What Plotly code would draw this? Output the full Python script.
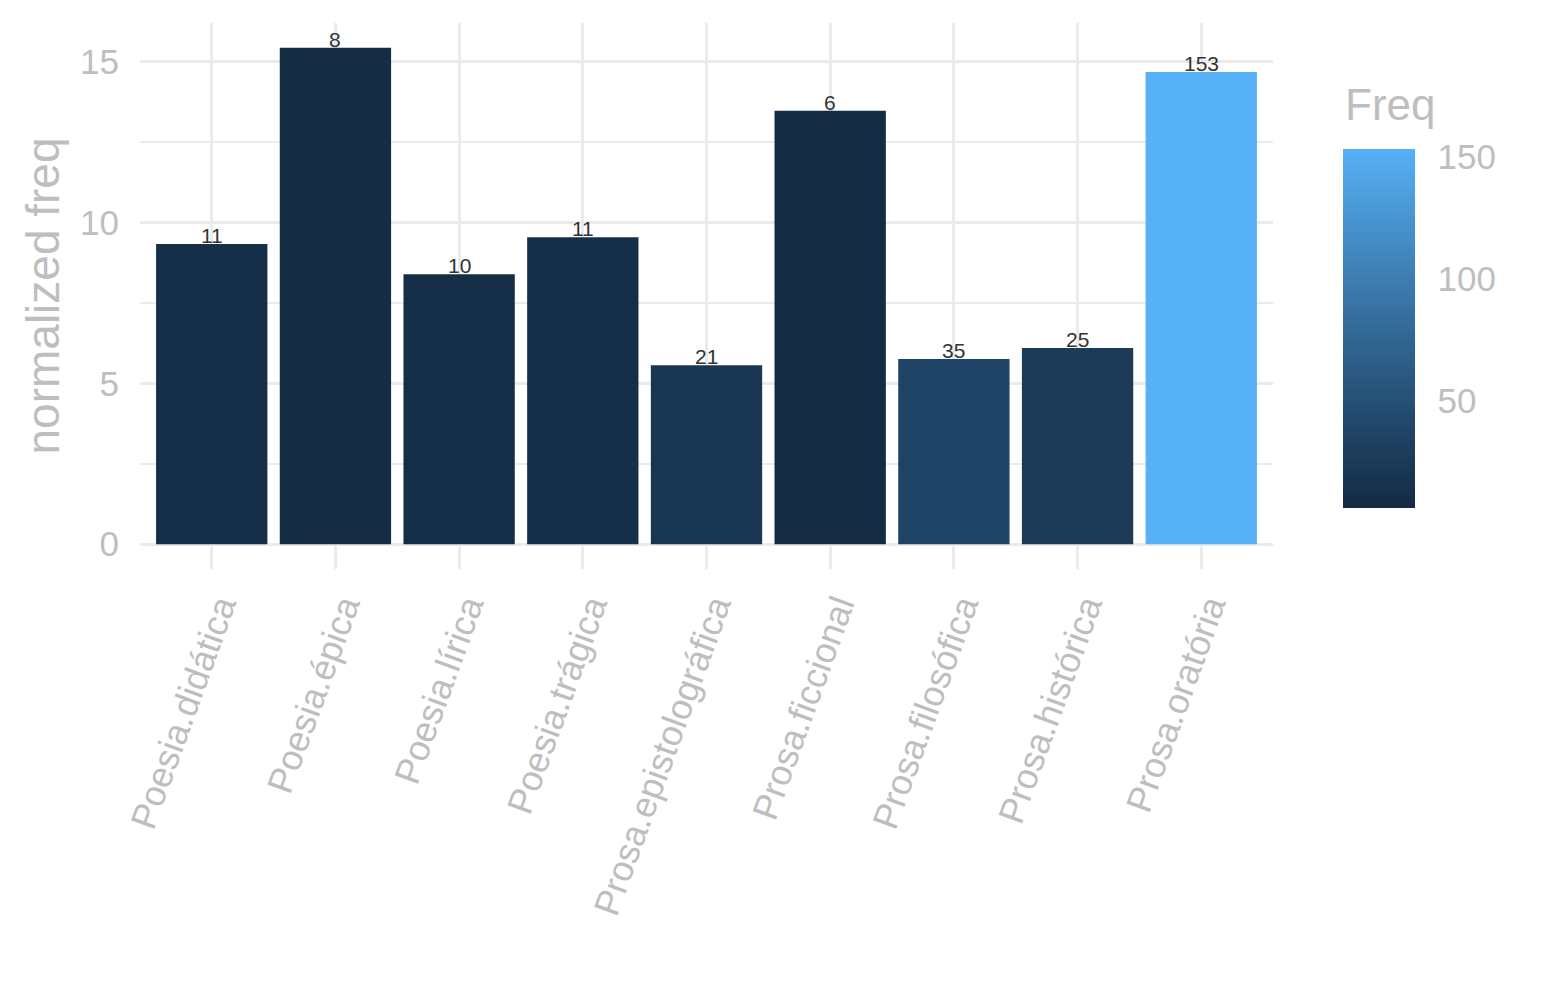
import plotly.graph_objects as go
import numpy as np

categories = ["Poesia.didática", "Poesia.épica", "Poesia.lírica", "Poesia.trágica",
              "Prosa.epistolográfica", "Prosa.ficcional", "Prosa.filosófica",
              "Prosa.histórica", "Prosa.oratória"]
norm_freq = [9.34, 15.44, 8.40, 9.55, 5.57, 13.48, 5.76, 6.10, 14.69]
freq = [11, 8, 10, 11, 21, 6, 35, 25, 153]
colorbar_ticks = [50, 100, 150]


# ggplot2-like gradient from #132B43 to #56B1F7 (Lab interpolation)
def hex2rgb(h):
    h = h.lstrip("#")
    return [int(h[i:i + 2], 16) / 255 for i in (0, 2, 4)]


def srgb2lin(c):
    c = np.array(c)
    return np.where(c <= 0.04045, c / 12.92, ((c + 0.055) / 1.055) ** 2.4)


def lin2srgb(c):
    c = np.clip(c, 0, 1)
    return np.where(c <= 0.0031308, 12.92 * c, 1.055 * c ** (1 / 2.4) - 0.055)


M = np.array([[0.4124, 0.3576, 0.1805], [0.2126, 0.7152, 0.0722], [0.0193, 0.1192, 0.9505]])
Minv = np.linalg.inv(M)
WP = np.array([0.95047, 1.0, 1.08883])


def f(t):
    return np.where(t > (6 / 29) ** 3, np.cbrt(t), t / (3 * (6 / 29) ** 2) + 4 / 29)


def finv(t):
    return np.where(t > 6 / 29, t ** 3, 3 * (6 / 29) ** 2 * (t - 4 / 29))


def rgb2lab(rgb):
    xyz = M @ srgb2lin(rgb) / WP
    fx, fy, fz = f(xyz)
    return np.array([116 * fy - 16, 500 * (fx - fy), 200 * (fy - fz)])


def lab2rgb(lab):
    L, a, b = lab
    fy = (L + 16) / 116
    fx = fy + a / 500
    fz = fy - b / 200
    xyz = np.array([finv(fx), finv(fy), finv(fz)]) * WP
    return lin2srgb(Minv @ xyz)


lo, hi = rgb2lab(hex2rgb("#132B43")), rgb2lab(hex2rgb("#56B1F7"))
colorscale = []
for t in np.linspace(0, 1, 11):
    r, g, b = lab2rgb(lo + (hi - lo) * t)
    colorscale.append([float(t), f"rgb({int(round(r*255))},{int(round(g*255))},{int(round(b*255))})"])

GREY = "#BEBEBE"
FONT = "Liberation Sans, Arial, sans-serif"

fig = go.Figure()
fig.add_trace(go.Bar(
    x=categories, y=norm_freq, width=0.9,
    marker=dict(color=freq, colorscale=colorscale, cmin=min(freq), cmax=max(freq),
                line=dict(width=0),
                colorbar=dict(
                    tickvals=colorbar_ticks, ticks="outside", ticklen=16, tickcolor="white", tickwidth=1.5,
                    tickfont=dict(size=35, color=GREY, family=FONT),
                    thickness=72, thicknessmode="pixels", len=359, lenmode="pixels",
                    x=1.0618, xanchor="left", xref="paper",
                    y=0.1117, yanchor="bottom", yref="paper",
                    outlinewidth=0, ypad=0, xpad=0)),
    showlegend=False, hoverinfo="skip"))

annotations = [dict(x=c, y=v, text=str(n), showarrow=False, xanchor="center", yanchor="bottom",
                    yshift=-5, font=dict(size=21, color="#333333", family=FONT))
               for c, v, n in zip(categories, norm_freq, freq)]
annotations.append(dict(x=1.0618, y=0.8516, xref="paper", yref="paper", text="Freq", showarrow=False,
                        xanchor="left", yanchor="middle", font=dict(size=44, color=GREY, family=FONT)))

fig.update_layout(
    width=1545, height=1000,
    paper_bgcolor="white", plot_bgcolor="white",
    margin=dict(l=132, r=280, t=15, b=439),
    font=dict(family=FONT, color=GREY),
    bargap=0.1,
    annotations=annotations,
)
fig.update_xaxes(
    range=[-0.58, 8.58], showgrid=True, gridcolor="#EBEBEB", gridwidth=3,
    tickangle=-70, tickfont=dict(size=36, color=GREY, family=FONT),
    ticks="", ticklabelstandoff=8, ticklabelshift=8,
    zeroline=False, showline=False,
)
fig.update_yaxes(
    range=[-0.77, 16.21], tickvals=[0, 5, 10, 15],
    showgrid=True, gridcolor="#EBEBEB", gridwidth=3,
    minor=dict(tickvals=[2.5, 7.5, 12.5], showgrid=True, gridcolor="#EBEBEB", gridwidth=2),
    tickfont=dict(size=35, color=GREY, family=FONT),
    ticks="", ticklabelstandoff=20,
    zeroline=False, showline=False,
    title=dict(text="normalized freq", font=dict(size=46, color=GREY, family=FONT), standoff=5),
)

fig.write_html("out.html")
